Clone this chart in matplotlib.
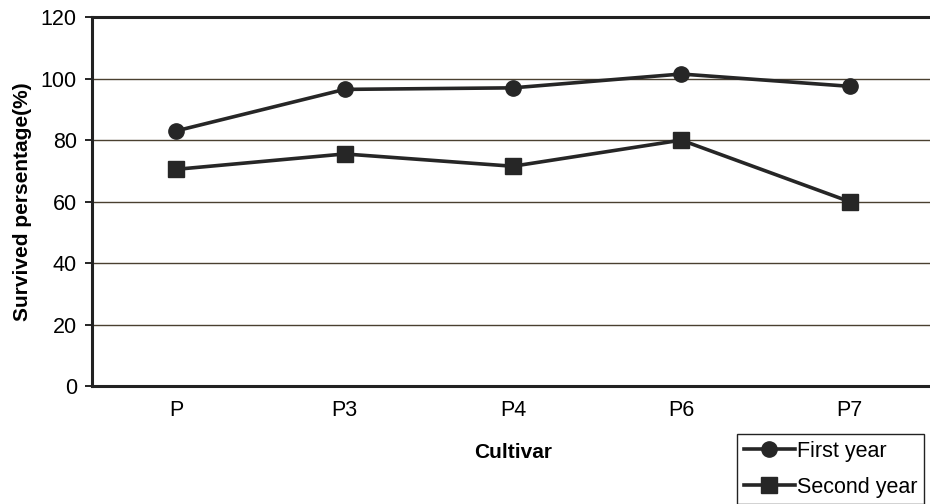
import matplotlib.pyplot as plt
import numpy as np

plt.rcParams['font.family'] = ['Liberation Sans', 'DejaVu Sans']

cultivars = ["P", "P3", "P4", "P6", "P7"]
first_year = [83, 96.5, 97, 101.5, 97.5]
second_year = [70.5, 75.5, 71.5, 80, 60]

fig = plt.figure(figsize=(9.3, 5.04), dpi=100)
ax = fig.add_axes([0.099, 0.234, 0.905, 0.732])

x = np.arange(len(cultivars))
ax.plot(x, first_year, color="#262626", lw=2.6, marker="o", ms=11, label="First year")
ax.plot(x, second_year, color="#262626", lw=2.6, marker="s", ms=11, label="Second year")

ax.set_xlim(-0.5, 4.5)
ax.set_ylim(0, 120)
ax.set_yticks(range(0, 121, 20))
ax.set_xticks(x)
ax.set_xticklabels(cultivars)
ax.yaxis.grid(True, color="#4a4030", lw=1.0)
ax.set_axisbelow(True)
ax.tick_params(axis="y", labelsize=15.5, length=5, width=1.2, pad=6)
ax.tick_params(axis="x", labelsize=15.5, length=0, pad=10)
for s in ax.spines.values():
    s.set_linewidth(2.2)
    s.set_color("#222222")

ax.set_ylabel("Survived persentage(%)", fontsize=15, fontweight="bold", labelpad=6)
ax.set_xlabel("Cultivar", fontsize=15, fontweight="bold", labelpad=16)

fig.legend(loc="upper left", bbox_to_anchor=(0.781, 0.16), fontsize=15.5,
           frameon=True, fancybox=False, edgecolor="#222222", framealpha=1,
           handlelength=2.4, borderpad=0.3, labelspacing=0.7, handletextpad=0.1)

fig.savefig("out.png", dpi=100)
